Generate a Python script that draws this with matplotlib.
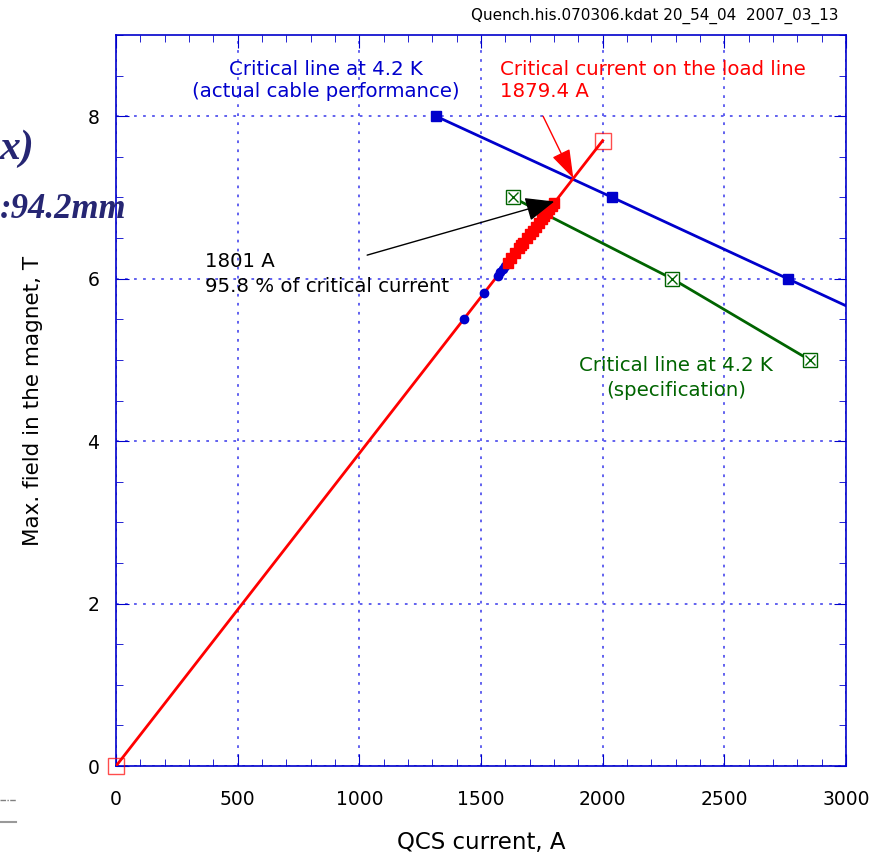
import matplotlib
matplotlib.use('Agg')
import numpy as np
from matplotlib import pyplot as plt
from matplotlib.ticker import MultipleLocator

# Data
# --------------------------------------------------------------------------
# Load line (QCS current vs max. field)
load_i = [0, 2000]
load_b = [0, 7.7]
# Critical line, actual cable performance
act_i = [1315, 2040, 2760, 3400]
act_b = [8.0, 7.0, 6.0, 5.11]
act_mark_i = [1315, 2040, 2760]
act_mark_b = [8.0, 7.0, 6.0]
# Critical line, specification
spec_i = [1630, 2285, 2850]
spec_b = [7.0, 6.0, 5.0]
# Quench points
quench_blue_i = [1428, 1512, 1568, 1580, 1590, 1598, 1625]
quench_red_i = [1610, 1625, 1640, 1655, 1665, 1672, 1690, 1700, 1712,
                1725, 1738, 1750, 1760, 1770, 1780, 1790, 1801]
slope = 7.7 / 2000.
quench_blue_b = [i * slope for i in quench_blue_i]
quench_red_b = [i * slope for i in quench_red_i]
ic_load = 1879.4
# --------------------------------------------------------------------------

plt.rcParams['font.family'] = ['DejaVu Sans']
fig = plt.figure(figsize=(8.87, 8.56), dpi=100)
ax = fig.add_axes([0.1308, 0.1051, 0.823, 0.854])

blue = '#0000cc'
green = '#006400'
red = '#ff0000'
fs = 14.2

ax.plot(act_i, act_b, color=blue, lw=2, zorder=3)
ax.plot(act_mark_i, act_mark_b, 's', color=blue, ms=7, zorder=4)
ax.plot(spec_i, spec_b, color=green, lw=2, zorder=3)
ax.plot(spec_i, spec_b, 's', mfc='white', mec=green, ms=10, mew=1, zorder=4)
ax.plot(spec_i, spec_b, 'x', color=green, ms=7, mew=1, zorder=5)
ax.plot(load_i, load_b, color=red, lw=2, zorder=5)
ax.plot(load_i, load_b, 's', mfc='none', mec=red, ms=11, mew=1, alpha=0.7,
        zorder=6, clip_on=False)
ax.plot(quench_blue_i, quench_blue_b, 'o', color=blue, ms=6, zorder=6)
ax.plot(quench_red_i, quench_red_b, 's', color=red, ms=7, zorder=7)

ax.set_xlim(0, 3000)
ax.set_ylim(0, 9)
ax.xaxis.set_major_locator(MultipleLocator(500))
ax.xaxis.set_minor_locator(MultipleLocator(100))
ax.yaxis.set_major_locator(MultipleLocator(2))
ax.yaxis.set_minor_locator(MultipleLocator(0.5))
ax.grid(True, which='major', color='#5555ee', ls=(0, (1.5, 3.5)), lw=1.3)
ax.tick_params(which='both', direction='in', top=True, right=True,
               color=blue, labelsize=13.5)
ax.tick_params(axis='x', which='major', pad=17)
ax.tick_params(axis='y', which='major', pad=12)
ax.tick_params(which='major', length=9)
ax.tick_params(which='minor', length=5)
for s in ax.spines.values():
    s.set_color(blue)
    s.set_linewidth(1.2)

ax.set_xlabel('QCS current, A', fontsize=16.5, labelpad=16)
ax.set_ylabel('Max. field in the magnet, T', fontsize=15.5, labelpad=32)

ax.text(863, 8.58, 'Critical line at 4.2 K', color=blue, fontsize=fs,
        ha='center', va='center')
ax.text(863, 8.3, '(actual cable performance)', color=blue, fontsize=fs,
        ha='center', va='center')
ax.text(1578, 8.58, 'Critical current on the load line', color=red,
        fontsize=fs, ha='left', va='center')
ax.text(1578, 8.3, '%.1f A' % ic_load, color=red, fontsize=fs,
        ha='left', va='center')
ax.text(2301, 4.93, 'Critical line at 4.2 K', color=green, fontsize=fs,
        ha='center', va='center')
ax.text(2301, 4.62, '(specification)', color=green, fontsize=fs,
        ha='center', va='center')
ax.text(366, 6.21, '1801 A', color='black', fontsize=fs, ha='left',
        va='center')
ax.text(366, 5.9, '95.8 % of critical current', color='black', fontsize=fs,
        ha='left', va='center')

ax.annotate('', xy=(ic_load, ic_load * slope), xytext=(1755, 8.0),
            arrowprops=dict(arrowstyle='-|>,head_length=0.6,head_width=0.2',
                            color=red, lw=1, mutation_scale=30,
                            shrinkA=0, shrinkB=0), zorder=8)
ax.annotate('', xy=(1801, 6.95), xytext=(1032, 6.29),
            arrowprops=dict(arrowstyle='-|>,head_length=0.6,head_width=0.25',
                            color='black', lw=1, mutation_scale=30,
                            shrinkA=0, shrinkB=0), zorder=8)

fig.text(0.945, 0.982, 'Quench.his.070306.kdat 20_54_04  2007_03_13',
         fontsize=11, ha='right', va='center',
         family=['Liberation Sans Narrow', 'DejaVu Sans'])

# leftovers of the slide behind the plot
fig.text(0.0, 0.826, 'x)', fontsize=30, ha='left', va='center',
         color='#262673', family=['Liberation Serif', 'DejaVu Serif'],
         weight='bold', style='italic')
fig.text(0.0, 0.755, ':94.2mm', fontsize=25, ha='left', va='center',
         color='#262673', family=['Liberation Serif', 'DejaVu Serif'],
         weight='bold', style='italic')
fig.add_artist(plt.Line2D([0, 0.018], [0.066, 0.066], color='gray',
                          lw=1, ls=(0, (4, 1, 1, 1))))
fig.add_artist(plt.Line2D([0, 0.018], [0.04, 0.04], color='#999999', lw=1.5))

fig.savefig('out.png', dpi=100)
